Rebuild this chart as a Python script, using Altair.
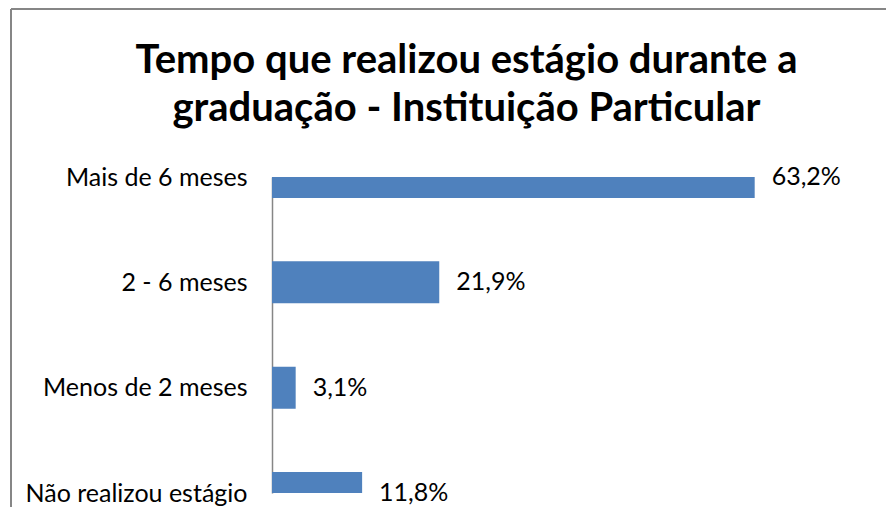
import altair as alt
import pandas as pd

categories = ["Mais de 6 meses", "2 - 6 meses", "Menos de 2 meses", "Não realizou estágio"]
values = [63.2, 21.9, 3.1, 11.8]
value_labels = ["63,2%", "21,9%", "3,1%", "11,8%"]

df = pd.DataFrame({"category": categories, "value": values, "label": value_labels})

FONT = "Lato"
LABEL_SIZE = 25

x_enc = alt.X("value:Q", scale=alt.Scale(domain=[0, 80]), axis=None)
y_enc = alt.Y(
    "category:N",
    sort=categories,
    scale=alt.Scale(type="point", padding=0),
    axis=alt.Axis(
        title=None,
        ticks=False,
        domainColor="#868686",
        domainWidth=1.5,
        labelFont=FONT,
        labelFontSize=LABEL_SIZE,
        labelColor="black",
        labelPadding=25,
        labelLimit=400,
    ),
)

base = alt.Chart(df)

bars = base.mark_bar(color="#4F81BD", size=42, clip=True).encode(x=x_enc, y=y_enc)

text = base.mark_text(
    align="left", baseline="middle", dx=17, font=FONT, fontSize=LABEL_SIZE, color="black"
).encode(x=x_enc, y=y_enc, text="label:N")

frame_left = alt.Chart(df).mark_rule(color="#868686", strokeWidth=2).encode(
    x=alt.value(-261), y=alt.value(-168), y2=alt.value(340)
)
frame_top = alt.Chart(df).mark_rule(color="#868686", strokeWidth=2).encode(
    x=alt.value(-261), x2=alt.value(700), y=alt.value(-168)
)

chart = (
    alt.layer(frame_left, frame_top, bars, text)
    .properties(
        width=611,
        height=316,
        padding={"left": 264, "top": 169, "right": 3, "bottom": 14},
        autosize=alt.AutoSizeParams(type="none"),
        view=alt.ViewBackground(stroke="transparent", strokeWidth=0),
        title=alt.TitleParams(
            text=["Tempo que realizou estágio durante a", "graduação - Instituição Particular"],
            font=FONT,
            fontSize=40,
            fontWeight="bold",
            color="black",
            anchor="middle",
            dx=-111,
            dy=125,
            lineHeight=48,
        ),
    )
    .configure_view(strokeWidth=0, stroke="transparent")
    .configure(background="white")
)

chart.save("out.html", embed_options={"renderer": "svg", "actions": False})
